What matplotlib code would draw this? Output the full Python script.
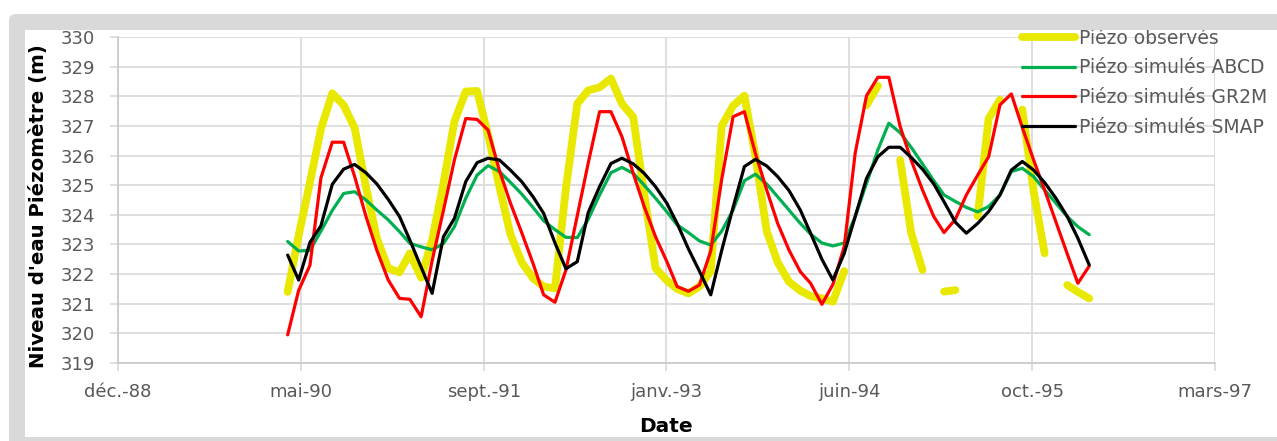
import numpy as np
import pandas as pd
import matplotlib
matplotlib.use("Agg")
import matplotlib.pyplot as plt
from matplotlib.patches import FancyBboxPatch, Rectangle
from matplotlib.transforms import IdentityTransform

# Monthly piezometric levels (m), April 1990 - April 1996
dates = pd.date_range("1990-04-01", periods=73, freq="MS")
nan = np.nan

obs = [321.40, 323.30, 325.10, 326.90, 328.10, 327.70, 326.94, 324.95, 323.20, 322.20,
       322.06, 322.70, 321.88, 323.15, 325.06, 327.15, 328.16, 328.18, 326.70, 324.95,
       323.35, 322.40, 321.86, 321.58, 321.52, 324.90, 327.75, 328.20, 328.30, 328.60,
       327.75, 327.30, 324.70, 322.20, 321.78, 321.50, 321.35, 321.58, 322.10, 327.00,
       327.68, 328.02, 326.00, 323.45, 322.40, 321.74, 321.44, 321.26, 321.18, 321.07,
       322.10, nan, 327.70, 328.35, nan, 325.85, 323.40, 322.14, nan, 321.41,
       321.46, nan, 323.95, 327.25, 327.88, nan, 327.55, 324.80, 322.70, nan,
       321.63, 321.40, 321.18]

abcd = [323.10, 322.78, 322.80, 323.45, 324.15, 324.72, 324.78, 324.50, 324.16, 323.83,
        323.43, 323.04, 322.92, 322.82, 323.03, 323.60, 324.56, 325.34, 325.66, 325.46,
        325.10, 324.70, 324.25, 323.80, 323.50, 323.24, 323.23, 323.85, 324.67, 325.42,
        325.60, 325.40, 325.00, 324.56, 324.10, 323.66, 323.40, 323.12, 322.98, 323.45,
        324.16, 325.15, 325.37, 325.04, 324.61, 324.16, 323.71, 323.35, 323.05, 322.95,
        323.05, 323.94, 325.06, 326.19, 327.09, 326.77, 326.28, 325.72, 325.15, 324.67,
        324.45, 324.25, 324.10, 324.28, 324.67, 325.46, 325.57, 325.29, 324.84, 324.39,
        323.94, 323.60, 323.33]

gr2m = [319.95, 321.45, 322.30, 325.25, 326.45, 326.45, 325.30, 323.95, 322.80, 321.80,
        321.18, 321.15, 320.56, 322.45, 324.15, 325.85, 327.25, 327.22, 326.86, 325.50,
        324.40, 323.40, 322.36, 321.30, 321.05, 322.14, 323.97, 325.75, 327.48, 327.48,
        326.64, 325.40, 324.28, 323.26, 322.42, 321.58, 321.42, 321.63, 322.78, 325.20,
        327.31, 327.48, 326.08, 324.84, 323.71, 322.81, 322.08, 321.69, 320.98, 321.65,
        322.93, 326.08, 328.02, 328.64, 328.64, 326.98, 325.85, 324.84, 323.94, 323.40,
        323.85, 324.67, 325.34, 325.96, 327.71, 328.08, 326.95, 325.85, 324.84, 323.76,
        322.68, 321.69, 322.27]

smap = [322.64, 321.80, 323.07, 323.63, 325.03, 325.54, 325.70, 325.42, 325.04, 324.52,
        323.94, 323.15, 322.23, 321.35, 323.26, 323.88, 325.12, 325.76, 325.91, 325.85,
        325.51, 325.12, 324.61, 324.05, 323.05, 322.18, 322.42, 324.08, 324.95, 325.73,
        325.91, 325.72, 325.40, 324.95, 324.39, 323.71, 322.85, 322.10, 321.30, 322.80,
        324.25, 325.63, 325.87, 325.65, 325.29, 324.82, 324.16, 323.38, 322.50, 321.80,
        322.70, 323.94, 325.23, 325.96, 326.28, 326.28, 325.94, 325.54, 325.04, 324.44,
        323.75, 323.38, 323.71, 324.11, 324.67, 325.51, 325.80, 325.51, 325.09, 324.56,
        323.94, 323.21, 322.31]

series_labels = ["Piézo observés", "Piézo simulés ABCD", "Piézo simulés GR2M", "Piézo simulés SMAP"]

# Date axis: 500-day major unit starting 23 Dec 1988
axis_start = pd.Timestamp("1988-12-23")
tick_step_days = 500
tick_labels = ["déc.-88", "mai-90", "sept.-91", "janv.-93", "juin-94", "oct.-95", "mars-97"]
y_min, y_max = 319, 330

W, H = 1277, 441
fig = plt.figure(figsize=(W / 100, H / 100), dpi=100)
fig.patch.set_facecolor("white")
frame_grey = "#d9d9d9"

# Grey chart-area frame with a white inner panel
outer = FancyBboxPatch((9, -30), 1320, H - 14 + 30, boxstyle="round,pad=0,rounding_size=7",
                       transform=IdentityTransform(), facecolor=frame_grey, edgecolor="none", zorder=-3)
inner = Rectangle((25, H - 437), 1320, 437 - 30, transform=IdentityTransform(),
                  facecolor="white", edgecolor="none", zorder=-2)
top_band = Rectangle((25, H - 30), 1320, 14, transform=IdentityTransform(),
                     facecolor=frame_grey, edgecolor="none", zorder=5)
for p in (outer, inner, top_band):
    fig.patches.append(p)
    p.set_figure(fig)

ax = fig.add_axes([118 / W, 1 - 363 / H, (1215 - 118) / W, (363 - 37) / H])
ax.set_facecolor("none")

line_style = dict(solid_capstyle="round", solid_joinstyle="round")
ax.plot(dates, obs, color="#e8e800", lw=5.6, label=series_labels[0], **line_style)
ax.plot(dates, abcd, color="#00b050", lw=2.3, label=series_labels[1], **line_style)
ax.plot(dates, gr2m, color="#ff0000", lw=2.3, label=series_labels[2], **line_style)
ax.plot(dates, smap, color="#000000", lw=2.3, label=series_labels[3], **line_style)

tick_dates = [axis_start + pd.Timedelta(days=tick_step_days * k) for k in range(len(tick_labels))]
ax.set_xlim(tick_dates[0], tick_dates[-1])
ax.set_xticks(tick_dates)
ax.set_xticklabels(tick_labels)
ax.set_ylim(y_min, y_max)
ax.set_yticks(range(y_min, y_max + 1))

ax.grid(True, color=frame_grey, lw=1.2, zorder=0)
ax.set_axisbelow(True)
for side in ("top", "right"):
    ax.spines[side].set_visible(False)
for side in ("left", "bottom"):
    ax.spines[side].set_color("#c8c8c8")
    ax.spines[side].set_linewidth(1.2)

ax.tick_params(axis="both", direction="out", length=5.8, width=1.2, color=frame_grey,
               labelcolor="#595959", labelsize=13)
ax.tick_params(axis="x", pad=8.5)
ax.tick_params(axis="y", pad=10.5)

leg = ax.legend(loc="upper left", bbox_to_anchor=(1022 / W, 1 - 28.5 / H), bbox_transform=fig.transFigure,
                frameon=False, fontsize=13.5, handlelength=2.8, handletextpad=0.25,
                labelspacing=0.57, borderpad=0, borderaxespad=0)
for t in leg.get_texts():
    t.set_color("#595959")

fig.text(39 / W, 1 - 206 / H, "Niveau d'eau Piézomètre (m)", rotation=90, ha="center", va="center",
         fontsize=14.2, fontweight="bold", color="black")
fig.text(666 / W, 1 - 427 / H, "Date", ha="center", va="center",
         fontsize=14.5, fontweight="bold", color="black")

fig.savefig("out.png", dpi=100)
